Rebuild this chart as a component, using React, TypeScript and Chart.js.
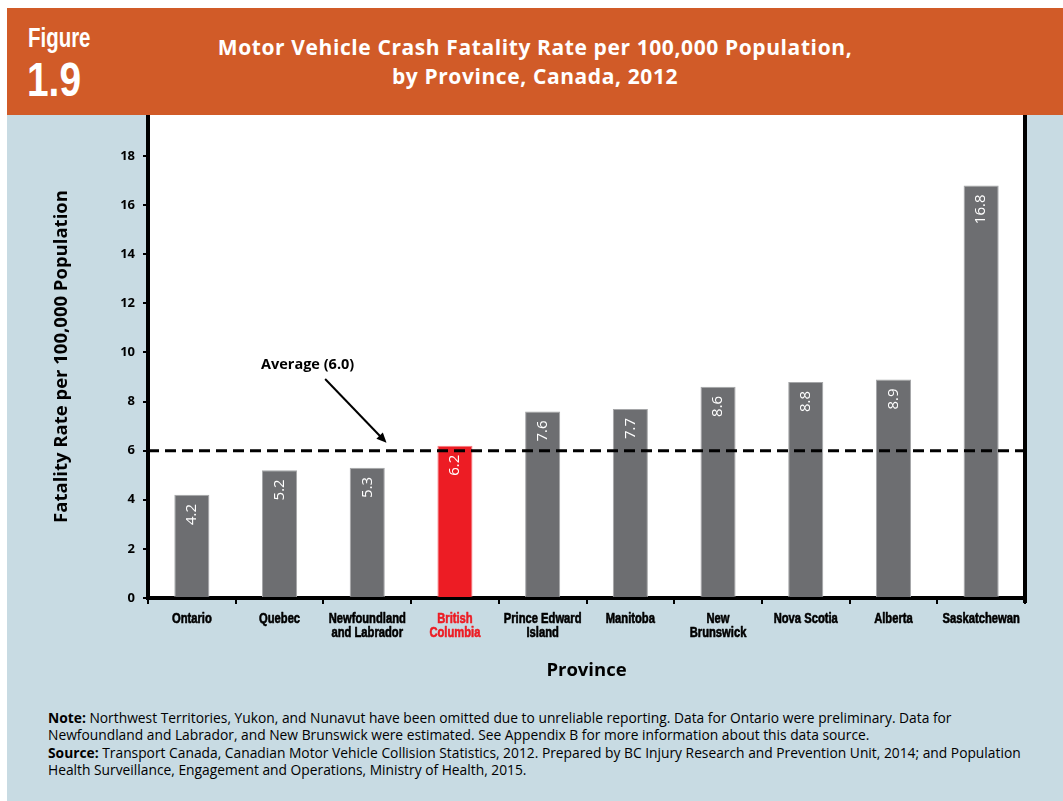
import React, { useEffect, useRef } from "react";
import { Chart, registerables } from "chart.js";

Chart.register(...registerables);

const provinces: (string | string[])[] = [
  "Ontario",
  "Quebec",
  ["Newfoundland", "and Labrador"],
  ["British", "Columbia"],
  ["Prince Edward", "Island"],
  "Manitoba",
  ["New", "Brunswick"],
  "Nova Scotia",
  "Alberta",
  "Saskatchewan",
];
const rates = [4.2, 5.2, 5.3, 6.2, 7.6, 7.7, 8.6, 8.8, 8.9, 16.8];
const highlightIndex = 3;
const averageRate = 6.0;
const averageLabel = "Average (6.0)";
// annotation anchor points in data units: [category index, value]
const averageTextAt = [1.32, 9.5];
const arrowFrom = [1.52, 8.92];
const arrowTo = [2.22, 6.32];
const yMax = 19.67;
const yStep = 2;

const GREY = "#6d6e71";
const RED = "#ed1c24";
const LIGHTBLUE = "#c8dbe3";
const ORANGE = "#d15b28";
const SANS = "'Open Sans', sans-serif";

const plotPlugin = {
  id: "plotDecor",
  beforeDraw(chart: any) {
    const { ctx, chartArea } = chart;
    ctx.save();
    ctx.fillStyle = "#ffffff";
    ctx.fillRect(chartArea.left, chartArea.top, chartArea.right - chartArea.left, chartArea.bottom - chartArea.top);
    ctx.restore();
  },
  afterDatasetsDraw(chart: any) {
    const { ctx, chartArea, scales } = chart;
    const x = scales.x;
    const y = scales.y;
    const meta = chart.getDatasetMeta(0);
    // value labels
    ctx.save();
    ctx.fillStyle = "#ffffff";
    ctx.font = "15px " + SANS;
    ctx.textAlign = "right";
    ctx.textBaseline = "middle";
    meta.data.forEach((bar: any, i: number) => {
      ctx.save();
      ctx.translate(bar.x, bar.y + 9);
      ctx.rotate(-Math.PI / 2);
      ctx.fillText(rates[i].toFixed(1), 0, 0);
      ctx.restore();
    });
    ctx.restore();
    // average dashed line
    const ay = y.getPixelForValue(averageRate);
    ctx.save();
    ctx.strokeStyle = "#000";
    ctx.lineWidth = 3;
    ctx.setLineDash([11, 6]);
    ctx.beginPath();
    ctx.moveTo(chartArea.left, ay);
    ctx.lineTo(chartArea.right, ay);
    ctx.stroke();
    ctx.restore();
    // annotation
    ctx.save();
    ctx.fillStyle = "#000";
    ctx.font = "bold 14.5px " + SANS;
    ctx.textAlign = "center";
    ctx.textBaseline = "middle";
    ctx.fillText(averageLabel, x.getPixelForValue(averageTextAt[0]), y.getPixelForValue(averageTextAt[1]));
    const x1 = x.getPixelForValue(arrowFrom[0]);
    const y1 = y.getPixelForValue(arrowFrom[1]);
    const x2 = x.getPixelForValue(arrowTo[0]);
    const y2 = y.getPixelForValue(arrowTo[1]);
    const ang = Math.atan2(y2 - y1, x2 - x1);
    const head = 11;
    ctx.strokeStyle = "#000";
    ctx.lineWidth = 2;
    ctx.beginPath();
    ctx.moveTo(x1, y1);
    ctx.lineTo(x2 - Math.cos(ang) * head * 0.8, y2 - Math.sin(ang) * head * 0.8);
    ctx.stroke();
    ctx.beginPath();
    ctx.moveTo(x2, y2);
    ctx.lineTo(x2 - head * Math.cos(ang - 0.42), y2 - head * Math.sin(ang - 0.42));
    ctx.lineTo(x2 - head * Math.cos(ang + 0.42), y2 - head * Math.sin(ang + 0.42));
    ctx.closePath();
    ctx.fill();
    ctx.restore();
  },
  afterDraw(chart: any) {
    const { ctx, chartArea, scales } = chart;
    // right frame line
    ctx.save();
    ctx.strokeStyle = "#000";
    ctx.lineWidth = 4;
    ctx.beginPath();
    ctx.moveTo(chartArea.right, chartArea.top);
    ctx.lineTo(chartArea.right, chartArea.bottom + 5);
    ctx.stroke();
    ctx.restore();
    // condensed category labels at the x scale's tick positions
    const x = scales.x;
    ctx.save();
    ctx.font = "bold 14px 'Liberation Sans', Arial, sans-serif";
    ctx.textAlign = "center";
    ctx.textBaseline = "middle";
    ctx.lineWidth = 0.6;
    ctx.lineJoin = "round";
    provinces.forEach((lab, i) => {
      const lines = Array.isArray(lab) ? lab : [lab];
      const px = x.getPixelForTick(i);
      const col = i === highlightIndex ? RED : "#000";
      ctx.fillStyle = col;
      ctx.strokeStyle = col;
      lines.forEach((ln, j) => {
        ctx.save();
        ctx.translate(px, x.top + 21.5 + j * 13.5);
        ctx.scale(0.8, 1);
        ctx.fillText(ln, 0, 0);
        ctx.strokeText(ln, 0, 0);
        ctx.restore();
      });
    });
    ctx.restore();
  },
};

function BarChart() {
  const ref = useRef<HTMLCanvasElement>(null);
  useEffect(() => {
    if (!ref.current) return;
    const chart = new Chart(ref.current, {
      type: "bar",
      data: {
        labels: provinces as any,
        datasets: [
          {
            data: rates,
            backgroundColor: rates.map((_, i) => (i === highlightIndex ? RED : GREY)),
            borderColor: rates.map((_, i) => (i === highlightIndex ? "#f47c80" : "#a5a6a8")),
            borderWidth: 1,
            barPercentage: 0.4,
            categoryPercentage: 1,
          },
        ],
      },
      options: {
        animation: false,
        responsive: false,
        maintainAspectRatio: false,
        layout: { padding: { left: 0, right: 38, top: 0, bottom: 0 } },
        plugins: { legend: { display: false }, tooltip: { enabled: false }, title: { display: false } },
        scales: {
          x: {
            afterFit: (s: any) => {
              s.height = 102;
              s.paddingLeft = 0;
              s.paddingRight = 0;
            },
            grid: { drawOnChartArea: false, drawTicks: true, tickLength: 6, color: "#000", lineWidth: 2, offset: true },
            border: { color: "#000", width: 4 },
            ticks: { display: false, autoSkip: false },
            title: {
              display: true,
              text: "Province",
              color: "#000",
              font: { family: SANS, size: 18.5, weight: "bold" },
              padding: { top: 0, bottom: 18 },
            },
          },
          y: {
            min: 0,
            max: yMax,
            afterFit: (s: any) => {
              s.width = 148;
              s.paddingTop = 0;
              s.paddingBottom = 0;
            },
            grid: { drawOnChartArea: false, drawTicks: true, tickLength: 5, color: "#000", lineWidth: 2 },
            border: { color: "#000", width: 4 },
            ticks: {
              stepSize: yStep,
              includeBounds: false,
              padding: 8,
              color: "#000",
              font: { family: SANS, size: 13, weight: "bold" },
            },
            title: {
              display: true,
              text: "Fatality Rate per 100,000 Population",
              color: "#000",
              font: { family: SANS, size: 18.5, weight: "bold" },
              padding: { top: 51, bottom: 0 },
            },
          },
        },
      },
      plugins: [plotPlugin],
    } as any);
    return () => chart.destroy();
  }, []);
  return <canvas ref={ref} width={1063} height={585} style={{ width: 1063, height: 585, display: "block" }} />;
}

export default function App() {
  return (
    <div style={{ position: "fixed", left: 0, top: 0, width: 1063, height: 801, background: "#fff", overflow: "hidden" }}>
      <div style={{ position: "absolute", left: 7, top: 8, width: 1056, height: 107, background: ORANGE }} />
      <div style={{ position: "absolute", left: 7, top: 115, width: 1056, height: 686, background: LIGHTBLUE }} />
      <div
        style={{
          position: "absolute",
          left: 28,
          top: 20,
          color: "#fff",
          fontFamily: "'Liberation Sans', Arial, sans-serif",
          fontWeight: "bold",
          fontSize: 28,
          lineHeight: "36px",
          transform: "scaleX(0.73)",
          transformOrigin: "left top",
          whiteSpace: "nowrap",
        }}
      >
        Figure
      </div>
      <div
        style={{
          position: "absolute",
          left: 27,
          top: 52,
          color: "#fff",
          fontFamily: "'Liberation Sans', Arial, sans-serif",
          fontWeight: "bold",
          fontSize: 48,
          lineHeight: "56px",
          transform: "scaleX(0.81)",
          transformOrigin: "left top",
          whiteSpace: "nowrap",
        }}
      >
        1.9
      </div>
      <div
        style={{
          position: "absolute",
          left: 35,
          width: 1000,
          top: 33,
          textAlign: "center",
          color: "#fff",
          fontFamily: SANS,
          fontWeight: "bold",
          fontSize: 21,
          letterSpacing: "0.6px",
          lineHeight: "29px",
        }}
      >
        Motor Vehicle Crash Fatality Rate per 100,000 Population,
        <br />
        by Province, Canada, 2012
      </div>
      <div style={{ position: "absolute", left: 0, top: 115 }}>
        <BarChart />
      </div>
      <div
        style={{
          position: "absolute",
          left: 48,
          top: 709,
          width: 1010,
          color: "#000",
          fontFamily: SANS,
          fontSize: 13.8,
          lineHeight: "17.4px",
          whiteSpace: "nowrap",
        }}
      >
        <b>Note:</b> Northwest Territories, Yukon, and Nunavut have been omitted due to unreliable reporting. Data for Ontario were preliminary. Data for
        <br />
        Newfoundland and Labrador, and New Brunswick were estimated. See Appendix B for more information about this data source.
        <br />
        <b>Source:</b> Transport Canada, Canadian Motor Vehicle Collision Statistics, 2012. Prepared by BC Injury Research and Prevention Unit, 2014; and Population
        <br />
        Health Surveillance, Engagement and Operations, Ministry of Health, 2015.
      </div>
    </div>
  );
}
